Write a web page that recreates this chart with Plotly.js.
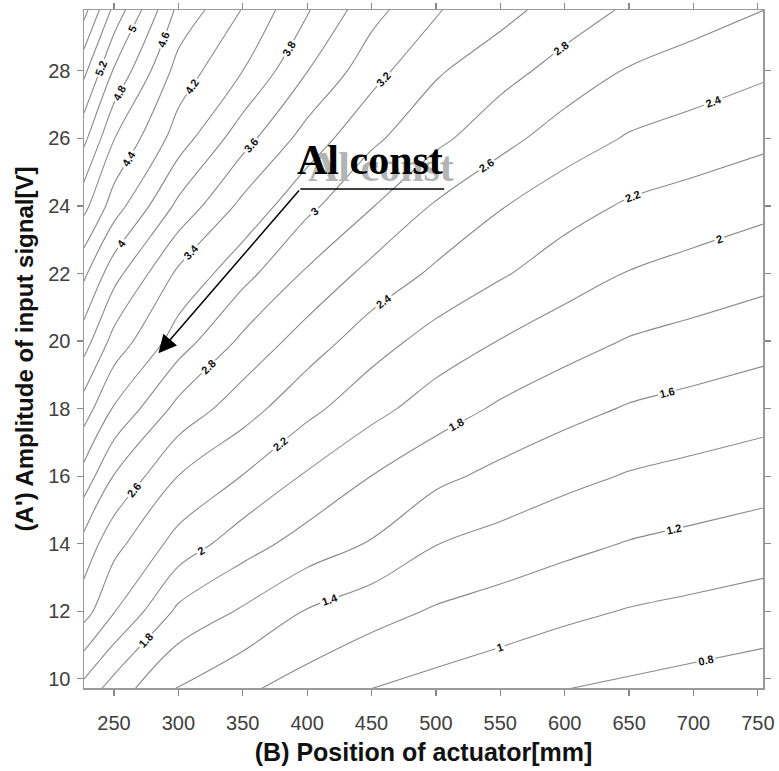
<!DOCTYPE html>
<html>
<head>
<meta charset="utf-8">
<script src="https://cdn.plot.ly/plotly-3.0.1.min.js"></script>
<style>html,body{margin:0;padding:0;background:#fff;}#chart{width:779px;height:771px;}</style>
</head>
<body>
<div id="chart"></div>
<script>
// Position of actuator [mm] (grid columns)
const positionMM = [226.7, 250, 300, 350, 400, 450, 500, 550, 600, 650, 700, 755];
// Amplitude of input signal [V] (grid rows)
const amplitudeV = [9.7, 12, 14, 16, 18, 20, 22, 24, 26, 28, 29.8];
// Response values read row by row (bottom to top)
const zAt9_7  = [1.93, 1.706, 1.38, 1.234, 1.112, 0.998, 0.933, 0.868, 0.802, 0.763, 0.724, 0.682];
const zAt12   = [2.48, 2.21, 1.756, 1.575, 1.386, 1.276, 1.178, 1.113, 1.046, 0.988, 0.949, 0.906];
const zAt14   = [2.73, 2.465, 2.123, 1.886, 1.717, 1.584, 1.405, 1.329, 1.255, 1.189, 1.145, 1.097];
const zAt16   = [3.12, 2.79, 2.397, 2.194, 1.975, 1.798, 1.65, 1.544, 1.456, 1.385, 1.339, 1.29];
const zAt18   = [3.50, 3.18, 2.735, 2.486, 2.255, 2.064, 1.902, 1.769, 1.666, 1.583, 1.533, 1.479];
const zAt20   = [3.89, 3.526, 3.103, 2.756, 2.506, 2.289, 2.119, 1.993, 1.882, 1.786, 1.731, 1.671];
const zAt22   = [4.24, 3.876, 3.357, 3.071, 2.771, 2.535, 2.363, 2.222, 2.098, 1.99, 1.929, 1.863];
const zAt24   = [4.66, 4.30, 3.75, 3.344, 3.049, 2.811, 2.577, 2.413, 2.276, 2.175, 2.115, 2.049];
const zAt26   = [5.05, 4.607, 4.103, 3.68, 3.314, 3.04, 2.851, 2.666, 2.502, 2.381, 2.315, 2.244];
const zAt28   = [5.45, 4.979, 4.318, 4.0, 3.605, 3.276, 3.025, 2.875, 2.723, 2.584, 2.511, 2.431];
const zAt29_8 = [5.87, 5.342, 4.547, 4.189, 3.817, 3.47, 3.215, 3.067, 2.907, 2.77, 2.687, 2.6];
// Contour levels
const levelStart = 0.8, levelEnd = 5.8, levelStep = 0.2;
// Axis ticks
const xTicks = [250, 300, 350, 400, 450, 500, 550, 600, 650, 700, 750];
const yTicks = [10, 12, 14, 16, 18, 20, 22, 24, 26, 28];
// Annotation text
const noteText = 'Al const';

const zGrid = [zAt9_7, zAt12, zAt14, zAt16, zAt18, zAt20, zAt22, zAt24, zAt26, zAt28, zAt29_8];

const trace = {
  type: 'contour',
  x: positionMM,
  y: amplitudeV,
  z: zGrid,
  autocontour: false,
  contours: {
    start: levelStart, end: levelEnd, size: levelStep,
    coloring: 'none',
    showlabels: true,
    labelfont: {family: 'Liberation Sans, Arial, sans-serif', size: 11, color: '#111', weight: 'bold'}
  },
  line: {color: '#8a8a8a', width: 1.1, smoothing: 1},
  showscale: false,
  hoverinfo: 'skip'
};

const axisFont = {family: 'Liberation Sans, Arial, sans-serif', size: 20, color: '#404040'};
const xTitleFont = {family: 'Liberation Sans, Arial, sans-serif', size: 25, color: '#111', weight: 'bold'};
const yTitleFont = {family: 'Liberation Sans, Arial, sans-serif', size: 24, color: '#111', weight: 'bold'};

const layout = {
  width: 779, height: 771,
  margin: {l: 84, r: 16, t: 10, b: 83},
  paper_bgcolor: '#fff', plot_bgcolor: '#fff',
  showlegend: false,
  xaxis: {
    range: [226.7, 754], tickvals: xTicks, ticktext: xTicks.map(String),
    ticks: 'outside', ticklen: 6, tickwidth: 1.2, tickcolor: '#888',
    showline: true, linecolor: '#9a9a9a', linewidth: 1.5, mirror: 'ticks',
    showgrid: false, zeroline: false, tickfont: axisFont, ticklabelstandoff: 10,
    title: {text: '(B) Position of actuator[mm]', font: xTitleFont, standoff: 11}
  },
  yaxis: {
    range: [9.73, 29.8], tickvals: yTicks, ticktext: yTicks.map(String),
    ticks: 'outside', ticklen: 6, tickwidth: 1.2, tickcolor: '#888',
    showline: true, linecolor: '#9a9a9a', linewidth: 1.5, mirror: 'ticks',
    showgrid: false, zeroline: false, tickfont: axisFont, ticklabelstandoff: 2,
    title: {text: "(A') Amplitude of input signal[V]", font: yTitleFont, standoff: 8}
  },
  shapes: [
    {type: 'line', xref: 'x', yref: 'y', x0: 394.7, y0: 24.5, x1: 506.4, y1: 24.5,
     line: {color: '#000', width: 1.6}}
  ],
  annotations: [
    {xref: 'x', yref: 'y', x: 284.5, y: 19.64, ax: 394.7, ay: 24.5, axref: 'x', ayref: 'y',
     text: '', showarrow: true, arrowhead: 2, arrowsize: 2.4, arrowwidth: 1.5, arrowcolor: '#000'},
    {xref: 'x', yref: 'y', x: 457.5, y: 25.15, text: noteText, showarrow: false,
     xanchor: 'center', yanchor: 'middle',
     font: {family: 'Liberation Serif, Times New Roman, serif', size: 42, color: '#b4b4b4', weight: 'bold'}},
    {xref: 'x', yref: 'y', x: 449, y: 25.36, text: noteText, showarrow: false,
     xanchor: 'center', yanchor: 'middle',
     font: {family: 'Liberation Serif, Times New Roman, serif', size: 42, color: '#000', weight: 'bold'}}
  ]
};

Plotly.newPlot('chart', [trace], layout, {staticPlot: true, displayModeBar: false});
</script>
</body>
</html>
